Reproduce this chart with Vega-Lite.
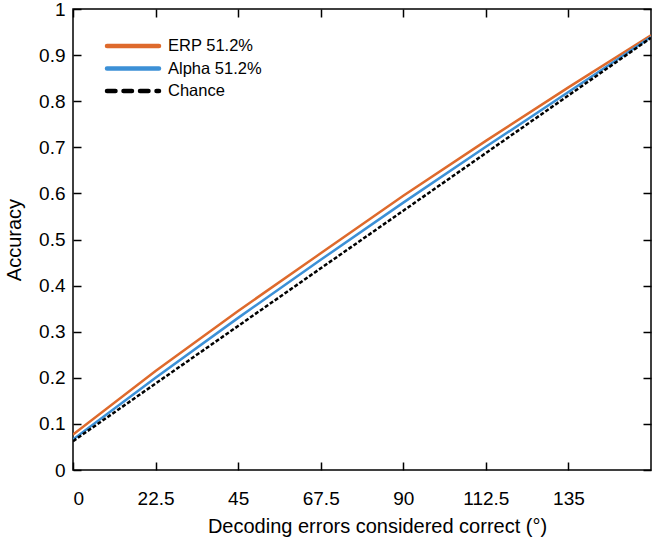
{
  "$schema": "https://vega.github.io/schema/vega-lite/v6.json",
  "width": 578,
  "height": 461,
  "autosize": {"type": "none"},
  "padding": {"left": 73, "top": 9, "right": 9, "bottom": 68},
  "background": "white",
  "config": {
    "view": {"stroke": "black", "strokeWidth": 1.5},
    "font": "Liberation Sans",
    "axis": {
      "grid": false,
      "domain": false,
      "labelColor": "black",
      "labelFontSize": 19,
      "titleColor": "black",
      "titleFontSize": 20,
      "titleFontWeight": "normal",
      "labelFont": "Liberation Sans",
      "titleFont": "Liberation Sans"
    }
  },
  "data": {
    "values": [
      {"x": 0, "y": 0.077, "s": "ERP 51.2%"},
      {"x": 22.5, "y": 0.215, "s": "ERP 51.2%"},
      {"x": 45, "y": 0.345, "s": "ERP 51.2%"},
      {"x": 67.5, "y": 0.470, "s": "ERP 51.2%"},
      {"x": 90, "y": 0.595, "s": "ERP 51.2%"},
      {"x": 112.5, "y": 0.714, "s": "ERP 51.2%"},
      {"x": 135, "y": 0.830, "s": "ERP 51.2%"},
      {"x": 157.5, "y": 0.943, "s": "ERP 51.2%"},
      {"x": 0, "y": 0.066, "s": "Alpha 51.2%"},
      {"x": 22.5, "y": 0.200, "s": "Alpha 51.2%"},
      {"x": 45, "y": 0.330, "s": "Alpha 51.2%"},
      {"x": 67.5, "y": 0.456, "s": "Alpha 51.2%"},
      {"x": 90, "y": 0.580, "s": "Alpha 51.2%"},
      {"x": 112.5, "y": 0.701, "s": "Alpha 51.2%"},
      {"x": 135, "y": 0.820, "s": "Alpha 51.2%"},
      {"x": 157.5, "y": 0.939, "s": "Alpha 51.2%"},
      {"x": 0, "y": 0.0625, "s": "Chance"},
      {"x": 22.5, "y": 0.1875, "s": "Chance"},
      {"x": 45, "y": 0.3125, "s": "Chance"},
      {"x": 67.5, "y": 0.4375, "s": "Chance"},
      {"x": 90, "y": 0.5625, "s": "Chance"},
      {"x": 112.5, "y": 0.6875, "s": "Chance"},
      {"x": 135, "y": 0.8125, "s": "Chance"},
      {"x": 157.5, "y": 0.9375, "s": "Chance"}
    ]
  },
  "layer": [
    {
      "transform": [{"filter": "datum.s !== 'Chance'"}],
      "mark": {"type": "line", "strokeWidth": 2.5, "clip": true},
      "encoding": {
        "x": {
          "field": "x", "type": "quantitative",
          "scale": {"domain": [0, 157.5], "nice": false, "zero": false},
          "axis": {"orient": "bottom", "values": [0, 22.5, 45, 67.5, 90, 112.5, 135], "format": ".1~f", "ticks": true, "tickColor": "black", "tickWidth": 1.5, "tickSize": -8, "labelPadding": 27, "title": "Decoding errors considered correct (°)", "titlePadding": 8, "titleX": 304, "titleAlign": "center"}
        },
        "y": {
          "field": "y", "type": "quantitative",
          "scale": {"domain": [0, 1], "nice": false},
          "axis": {"orient": "left", "values": [0, 0.1, 0.2, 0.3, 0.4, 0.5, 0.6, 0.7, 0.8, 0.9, 1], "format": ".1~f", "ticks": true, "tickColor": "black", "tickWidth": 1.5, "tickSize": -8, "labelPadding": 16, "title": "Accuracy", "titlePadding": 14}
        },
        "color": {
          "field": "s", "type": "nominal",
          "scale": {"domain": ["ERP 51.2%", "Alpha 51.2%", "Chance"], "range": ["#DE6A2C", "#3C90D6", "#000000"]},
          "legend": {
            "title": null,
            "orient": "none",
            "legendX": 47,
            "legendY": 24,
            "symbolType": "M-2.5,0H2.5",
            "symbolSize": 433,
            "symbolStrokeWidth": 4.5,
            "labelFontSize": 16.5,
            "labelColor": "black",
            "labelFont": "Liberation Sans",
            "labelOffset": 22,
            "rowPadding": 0.5,
            "encode": {
              "symbols": {
                "update": {
                  "strokeDash": {"signal": "datum.value === 'Chance' ? [8.5, 8] : [1, 0]"},
                  "strokeCap": {"value": "round"}
                }
              }
            }
          }
        }
      }
    },
    {
      "transform": [{"filter": "datum.s === 'Chance'"}],
      "mark": {"type": "line", "strokeWidth": 2.5, "strokeDash": [4, 2], "clip": true},
      "encoding": {
        "x": {"field": "x", "type": "quantitative", "axis": {"orient": "top", "values": [0, 22.5, 45, 67.5, 90, 112.5, 135], "labels": false, "ticks": true, "tickColor": "black", "tickWidth": 1.5, "tickSize": -8, "title": null}},
        "y": {"field": "y", "type": "quantitative", "axis": {"orient": "right", "values": [0, 0.1, 0.2, 0.3, 0.4, 0.5, 0.6, 0.7, 0.8, 0.9, 1], "labels": false, "ticks": true, "tickColor": "black", "tickWidth": 1.5, "tickSize": -8, "title": null}},
        "color": {"field": "s", "type": "nominal"}
      }
    }
  ],
  "resolve": {"axis": {"x": "independent", "y": "independent"}}
}
